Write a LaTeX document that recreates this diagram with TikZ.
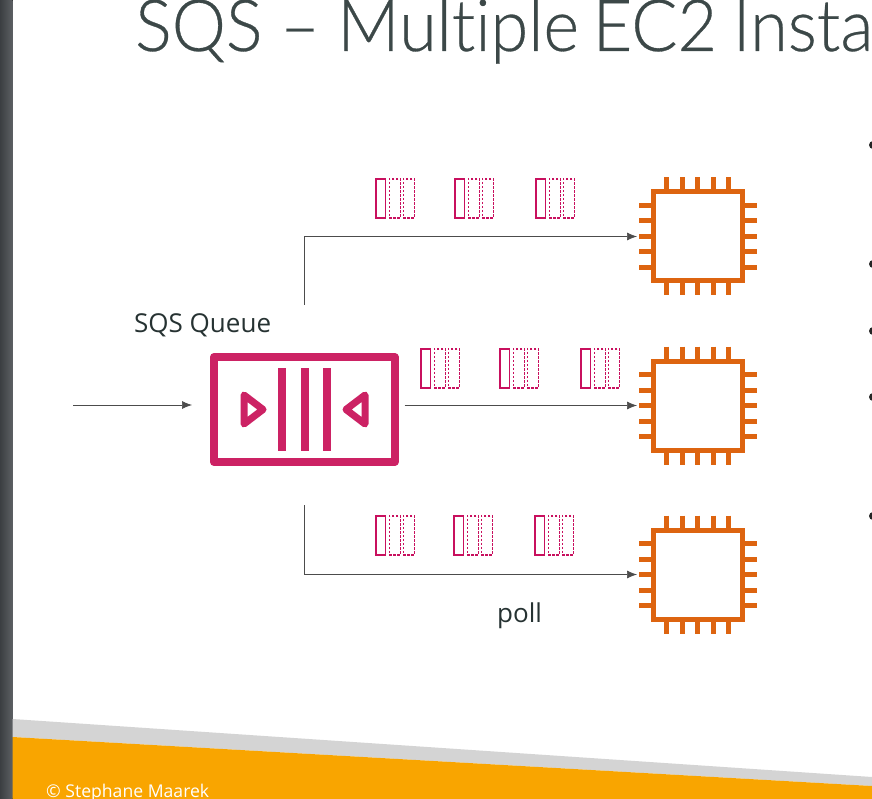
\documentclass[tikz,border=0pt]{standalone}
\usepackage{fontspec}
\setmainfont{Open Sans}
\newfontfamily\titlefont[FakeStretch=0.95, WordSpace=0.95, FakeBold=0.4, Ligatures=NoCommon]{Lato Light}
\usepackage{tikz}
\usetikzlibrary{arrows.meta}
\definecolor{queuepink}{HTML}{CC2264}
\definecolor{msgpink}{HTML}{C8105E}
\definecolor{ectwoorange}{HTML}{DD6410}
\definecolor{footorange}{HTML}{F9A500}
\definecolor{inkgrey}{HTML}{3C4848}
\definecolor{labelgrey}{HTML}{263232}
\definecolor{edgegrey}{HTML}{4A4E52}
\tikzset{
    flow/.style={draw=black!70, line width=0.7pt, -{Latex[length=10pt, width=8pt]}},
    msgsolid/.style={color=msgpink, draw, line width=1.8pt, anchor=north west, inner sep=0pt, minimum width=9.5pt, minimum height=39pt},
    msgdash/.style={color=msgpink, draw, line width=1.7pt, dash pattern=on 2.5pt off 1.5pt, anchor=north west, inner sep=0pt, minimum width=11pt, minimum height=39pt},
    queuebox/.style={draw=queuepink, line width=8pt, line join=round, inner sep=0pt, minimum width=180.5pt, minimum height=105pt},
    ectwobox/.style={draw=ectwoorange, line width=5pt, inner sep=0pt, minimum size=89pt},
    pin/.style={ectwoorange, line width=5pt},
    label/.style={anchor=base west, inner sep=0pt, text=labelgrey, font=\fontsize{26}{30}\selectfont}
}
\begin{document}
\begin{tikzpicture}[x=1pt, y=-1pt]
    \useasboundingbox (0,0) rectangle (872,799);
    \clip (0,0) rectangle (872,799);
    \fill[white] (0,0) rectangle (872,799);
    % slide edge and footer
    \fill[left color=edgegrey!80!black, right color=edgegrey!90!white] (0,0) rectangle (12.5,799);
    \fill[black!17] (12.5,719) -- (872,777) -- (872,786) -- (12.5,737) -- cycle;
    \fill[footorange] (12.5,737) -- (872,786) -- (872,799) -- (12.5,799) -- cycle;
    \node[anchor=base west, inner sep=0pt, text=white, font=\fontsize{17.6}{22}\selectfont] (footer) at (46,797) {© Stephane Maarek};
    % title
    \node[anchor=base west, inner sep=0pt, text=inkgrey, font=\titlefont\fontsize{72}{80}\selectfont] (title) at (135,51) {SQS – Multiple\kern-4pt{} EC2\kern-2pt{} Instan};
    % bullets
    \foreach \by in {145,264,331,397,516} {
        \fill[black!85] (873,\by) circle (4pt);
    }
    % queue
    \node[queuebox] (queue) at (304.25,409.5) {};
    \foreach \bx in {282,304.5,327} {
        \draw[queuepink, line width=8pt] (\bx,368) -- (\bx,451);
    }
    \draw[queuepink, line width=7pt, line join=round] (244,395) -- (263,409.5) -- (244,424) -- cycle;
    \draw[queuepink, line width=7pt, line join=round] (365,395) -- (346,409.5) -- (365,424) -- cycle;
    \node[label] (queuelabel) at (134,332) {SQS Queue};
    % instances
    \foreach \n/\cy in {a/236.5,b/405.5,c/574.5} {
        \node[ectwobox] (ec2\n) at (698,\cy) {};
        \foreach \d in {-32,-16,-1,15,30} {
            \draw[pin] (698+\d,\cy-59) -- (698+\d,\cy-47);
            \draw[pin] (698+\d,\cy+47) -- (698+\d,\cy+59);
        }
        \foreach \d in {-31,-15.5,0,15.5,31} {
            \draw[pin] (639,\cy+\d) -- (651,\cy+\d);
            \draw[pin] (745,\cy+\d) -- (757,\cy+\d);
        }
    }
    % messages
    \foreach \mx/\my in {375/178,454/178,535/178,420/348,499/348,580/348,375/515,453/515,534/515} {
        \node[msgsolid] (msg\mx\my) at (\mx,\my) {};
        \node[msgdash] (msgx\mx\my) at (\mx+13.5,\my) {};
        \node[msgdash] (msgy\mx\my) at (\mx+27.5,\my) {};
    }
    % arrows
    \coordinate (source) at (73,405);
    \draw[flow, shorten >=18pt] (source) -- (source -| queue.west);
    \draw[flow, shorten <=6pt, shorten >=14pt] (queue.east |- ec2b.west) -- (ec2b.west);
    \draw[flow, shorten <=48pt, shorten >=14pt] (queue.north) |- (ec2a.west);
    \draw[flow, shorten <=39pt, shorten >=14pt] (queue.south) |- (ec2c.west);
    \node[label] (polllabel) at (497,622) {poll};
\end{tikzpicture}
\end{document}
